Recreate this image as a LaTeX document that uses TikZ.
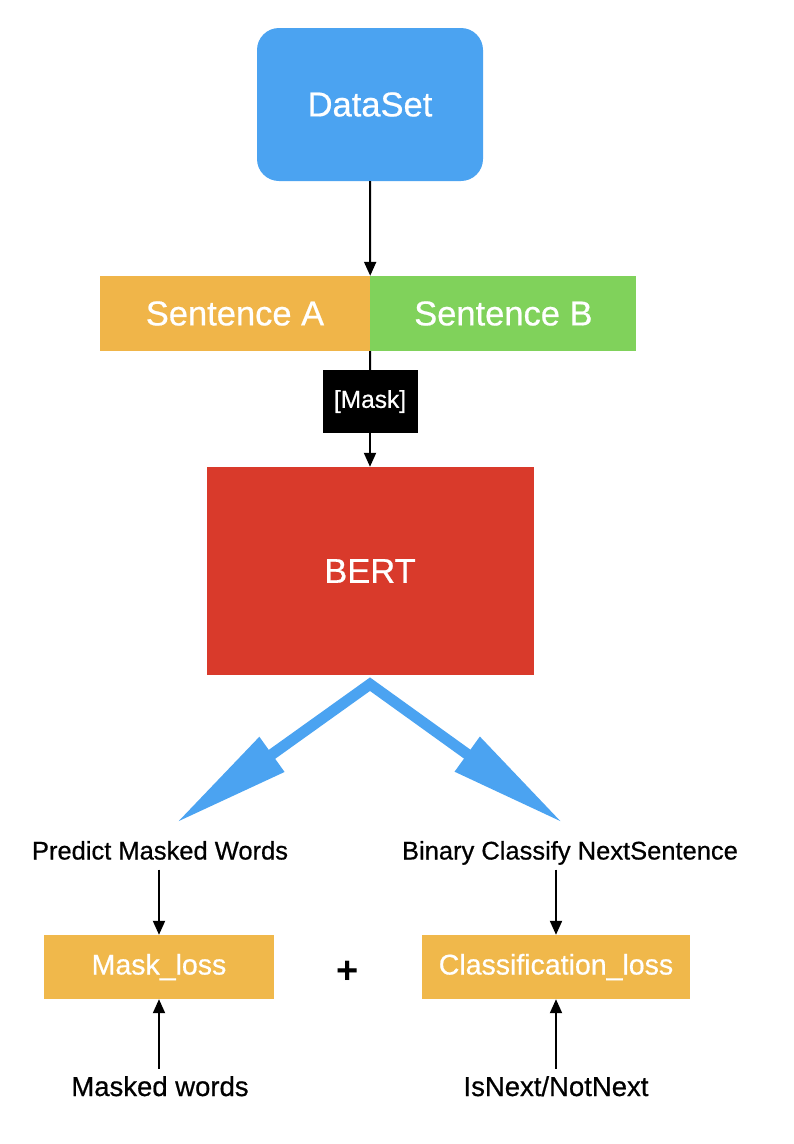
\documentclass[tikz,border=0pt]{standalone}
\usepackage{fontspec}
\setmainfont{Liberation Sans}
\newfontfamily\medfont{Liberation Sans}[FakeBold=0.6]
\usetikzlibrary{arrows.meta,positioning}
\usepackage{xcolor}
\definecolor{datablue}{HTML}{4BA3F1}
\definecolor{sentorange}{HTML}{F0B549}
\definecolor{sentgreen}{HTML}{80D25B}
\definecolor{bertred}{HTML}{D93A2B}
\definecolor{lossorange}{HTML}{F0B84B}
\newcommand\boxfont{\medfont\fontsize{34.5}{40}\selectfont}
\newcommand\lossfont{\medfont\fontsize{28.5}{32}\selectfont}
\newcommand\maskfont{\medfont\fontsize{24.5}{28}\selectfont}
\newcommand\topfont{\medfont\fontsize{25.5}{30}\selectfont}
\newcommand\botfont{\medfont\fontsize{27.5}{32}\selectfont}

\begin{document}
\begin{tikzpicture}[
  x=1pt,y=-1pt,
  box/.style={rectangle,inner sep=0pt,align=center,text=white},
  lbl/.style={inner sep=5pt,text=black},
  arrow/.style={-{Triangle[length=14pt,width=12pt]},line width=2pt,color=black},
  fatarrow/.style={{Triangle[length=118pt,width=40pt]}-{Triangle[length=118pt,width=40pt]},
    line width=11pt,color=datablue,line join=miter}
]
  \useasboundingbox (0,0) rectangle (794,1144);

  \node[box,fill=datablue,rounded corners=22pt,minimum width=226pt,
    minimum height=153pt,font=\boxfont] (data) at (370,104.5) {DataSet};
  \node[box,fill=sentorange,minimum width=270pt,minimum height=75pt,
    font=\boxfont] (sa) at (235,313.5) {Sentence A};
  \node[box,fill=sentgreen,minimum width=266pt,minimum height=75pt,
    font=\boxfont,right=0pt of sa] (sb) {Sentence B};
  \node[box,fill=black,minimum width=95pt,minimum height=63pt,
    font=\maskfont] (mask) at (370,401.5) {[Mask]};
  \node[box,fill=bertred,minimum width=327pt,minimum height=208pt,
    font=\boxfont] (bert) at (370,571) {BERT};

  \coordinate (fork) at ([yshift=-9pt]bert.south);
  \coordinate (lefttip) at (176,823);
  \coordinate (righttip) at (563,823);

  \node[lbl,font=\topfont,text height=18pt,text depth=5pt] (pmw) at (160,853) {Predict Masked Words};
  \node[lbl,font=\topfont,text height=18pt,text depth=5pt] (bcns) at (570,853) {Binary Classify NextSentence};
  \node[box,fill=lossorange,minimum width=230pt,minimum height=64pt,
    font=\lossfont] (mloss) at (159,967) {Mask\_loss};
  \node[box,fill=lossorange,minimum width=268pt,minimum height=64pt,
    font=\lossfont] (closs) at (556,967) {Classification\_loss};
  \node[text=black,font=\fontsize{38}{40}\selectfont\bfseries] (plus) at (348,972) {+};
  \node[lbl,font=\botfont,text height=20pt,text depth=6pt,inner sep=7pt] (mw) at (160,1089) {Masked words};
  \node[lbl,font=\botfont,text height=20pt,text depth=6pt,inner sep=7pt] (isn) at (556,1089) {IsNext/NotNext};

  \draw[arrow] (data.south) -- (sa.north east);
  \draw[line width=2pt] (sa.south east) -- (mask.north);
  \draw[arrow] (mask.south) -- (bert.north);
  \draw[fatarrow] (lefttip) -- (fork) -- (righttip);
  \draw[arrow] (pmw.south -| mloss) -- (mloss.north);
  \draw[arrow] (bcns.south -| closs) -- (closs.north);
  \draw[arrow] (mw.north -| mloss) -- (mloss.south);
  \draw[arrow] (isn.north -| closs) -- (closs.south);
\end{tikzpicture}
\end{document}
